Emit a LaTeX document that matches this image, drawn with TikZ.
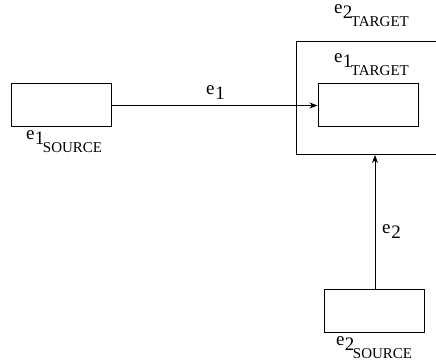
\documentclass[tikz,border=0pt]{standalone}
\usepackage{fontspec}
\setmainfont{Liberation Serif}
\usetikzlibrary{arrows.meta}
\newcommand{\elab}[2]{\fontsize{19}{19}\selectfont e\kern0.5pt\raisebox{-5pt}{#1}\kern-1.5pt\raisebox{-13pt}{\fontsize{15}{15}\selectfont #2}}
\newcommand{\esimple}[1]{\fontsize{19}{19}\selectfont e\kern1pt\raisebox{-5pt}{#1}}
\tikzset{
  box/.style={draw, line width=1pt, minimum width=100pt, minimum height=43pt, inner sep=0pt},
  lab/.style={anchor=base west, inner sep=0pt, outer sep=0pt},
  conn/.style={line width=0.9pt, -{Stealth[length=8pt,width=6pt]}},
  frame/.style={line width=1pt}
}
\begin{document}
\begin{tikzpicture}[x=1pt,y=-1pt]
\useasboundingbox (0,0) rectangle (436,363);
% boxes
\node[box] (src1) at (61,105.5) {};
\node[box] (tgt1) at (368,105) {};
\node[box] (src2) at (374,310.5) {};
% outer target frame (open at right edge)
\coordinate (ftr) at (436,42);
\coordinate (ftl) at (296,42);
\coordinate (fbl) at (296,155);
\coordinate (fbr) at (436,155);
\draw[frame] (ftr) -- (ftl) -- (fbl) -- (fbr);
% connectors
\draw[conn] (src1.east) -- (src1.east -| tgt1.west);
\coordinate (e2start) at (375,289);
\draw[conn] (e2start) -- (e2start |- fbl);
% labels
\node[lab] (l1s) at (26,140) {\elab{1}{SOURCE}};
\node[lab] (l1) at (206,95) {\esimple{1}};
\node[lab] (l2t) at (334,14) {\elab{2}{TARGET}};
\node[lab] (l1t) at (334,63) {\elab{1}{TARGET}};
\node[lab] (l2) at (382,234) {\esimple{2}};
\node[lab] (l2s) at (336,345) {\elab{2}{SOURCE}};
\end{tikzpicture}
\end{document}
